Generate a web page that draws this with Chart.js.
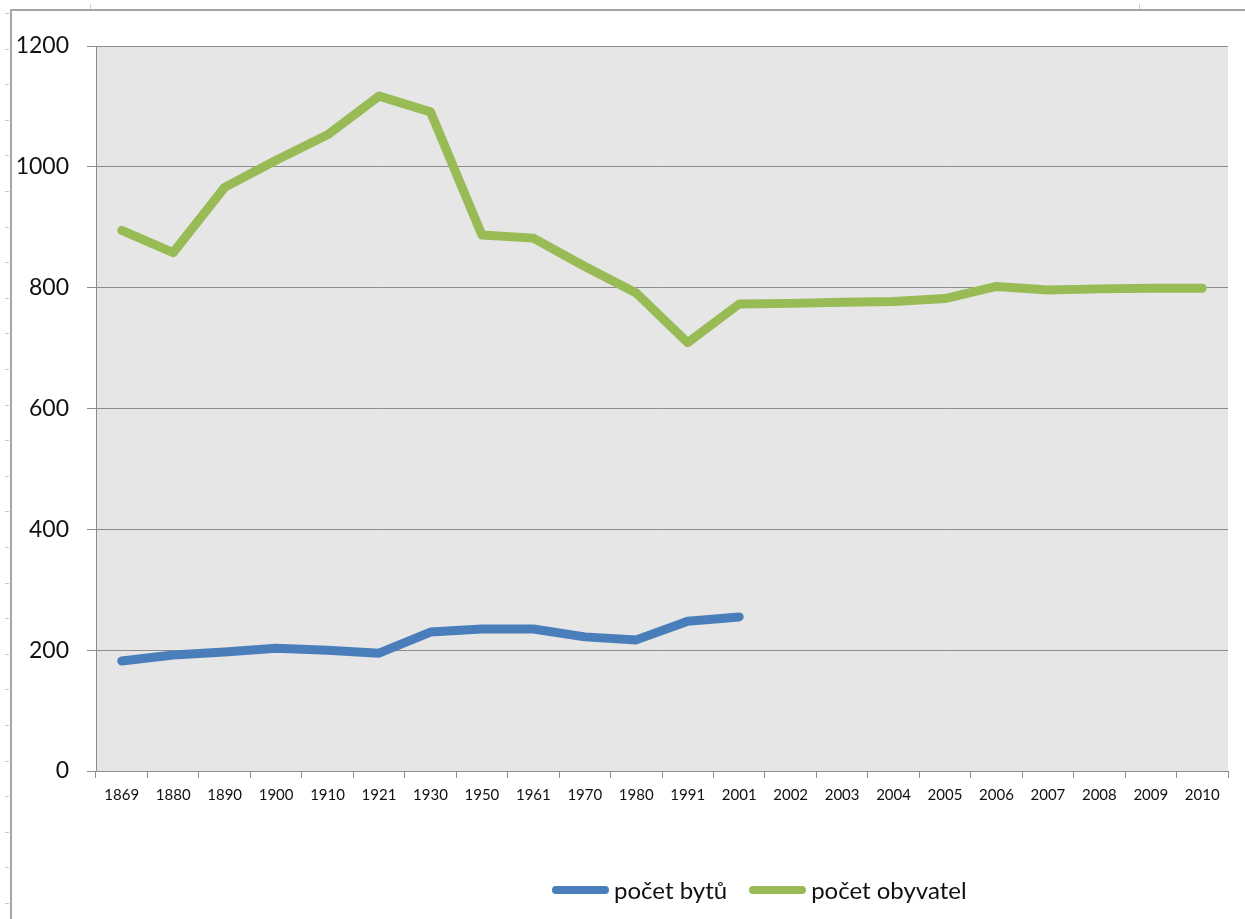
<!DOCTYPE html>
<html>
<head>
<meta charset="utf-8">
<script src="https://cdn.jsdelivr.net/npm/chart.js@4.4.0/dist/chart.umd.min.js"></script>
<style>
  html, body { margin: 0; padding: 0; background: #fff; }
  #wrap { position: relative; width: 1245px; height: 919px; overflow: hidden; }
  #frame { position: absolute; left: 10px; top: 9px; width: 1240px; height: 920px;
           border-left: 2px solid #a6a6a6; border-top: 2px solid #a6a6a6; }
  #ruler { position: absolute; left: 5px; top: 0; width: 4px; height: 919px;
           background: repeating-linear-gradient(to bottom, transparent 0px, transparent 13px, #c8c8c8 13px, #c8c8c8 14px, transparent 14px, transparent 35.6px); }
  .rtick { position: absolute; top: 4px; width: 1px; height: 5px; background: #d0d0d0; }
  #c { position: absolute; left: 0; top: 0; }
  #legend { position: absolute; left: 552px; top: 875px; display: flex; align-items: center;
            font-family: Lato, "Open Sans", sans-serif; font-size: 24px; color: #111; }
  .item { display: flex; align-items: center; margin-right: 22px; }
  .bar { width: 57px; height: 8px; border-radius: 4px; margin-right: 5px; }
</style>
</head>
<body>
<div id="wrap">
  <div id="frame"></div>
  <div id="ruler"></div>
  <div class="rtick" style="left:90px"></div>
  <div class="rtick" style="left:1139px"></div>
  <canvas id="c" width="1245" height="919"></canvas>
  <div id="legend"></div>
</div>
<script>
const categories = ["1869","1880","1890","1900","1910","1921","1930","1950","1961","1970","1980","1991","2001","2002","2003","2004","2005","2006","2007","2008","2009","2010"];
const pocetBytu = [182,192,197,203,200,195,230,235,235,222,217,248,255,null,null,null,null,null,null,null,null,null];
const pocetObyvatel = [895,858,966,1011,1053,1117,1091,887,882,835,791,709,773,774,776,777,782,802,796,798,799,799];
const seriesNames = ["počet bytů","počet obyvatel"];
const seriesColors = ["#4a7ebb","#98bb55"];
const yTicks = [0,200,400,600,800,1000,1200];

const bgPlugin = {
  id: 'plotBg',
  beforeDraw(chart) {
    const a = chart.chartArea, ctx = chart.ctx;
    ctx.save();
    ctx.fillStyle = '#e6e6e6';
    ctx.fillRect(a.left, a.top, a.right - a.left, a.bottom - a.top);
    ctx.restore();
  }
};

const chart = new Chart(document.getElementById('c'), {
  type: 'line',
  data: {
    labels: categories,
    datasets: [
      { label: seriesNames[0], data: pocetBytu, borderColor: seriesColors[0], backgroundColor: seriesColors[0],
        borderWidth: 9, pointRadius: 0, tension: 0, borderCapStyle: 'round', borderJoinStyle: 'round', spanGaps: false },
      { label: seriesNames[1], data: pocetObyvatel, borderColor: seriesColors[1], backgroundColor: seriesColors[1],
        borderWidth: 9, pointRadius: 0, tension: 0, borderCapStyle: 'round', borderJoinStyle: 'round' }
    ]
  },
  options: {
    responsive: false,
    animation: false,
    devicePixelRatio: 1,
    layout: { padding: { left: 0, right: 17, top: 46, bottom: 919 - 771 - 40 } },
    plugins: { legend: { display: false }, tooltip: { enabled: false } },
    scales: {
      x: {
        offset: true,
        grid: { display: true, offset: true, drawOnChartArea: false, drawTicks: true, tickLength: 7, color: '#8c8c8c', lineWidth: 1 },
        border: { display: true, color: '#8c8c8c', width: 1 },
        ticks: { color: '#111', font: { family: 'Lato', size: 15 }, padding: 8, maxRotation: 0, autoSkip: false },
        afterFit(s) { s.height = 40; }
      },
      y: {
        min: 0, max: 1200,
        afterBuildTicks(s) { s.ticks = yTicks.map(v => ({ value: v })); },
        grid: { color: '#8c8c8c', lineWidth: 1, tickLength: 9, drawTicks: true },
        border: { display: true, color: '#8c8c8c', width: 1 },
        ticks: { color: '#111', font: { family: 'Lato', size: 23 }, padding: 18, callback: v => String(v) },
        afterFit(s) { s.width = 96; }
      }
    }
  },
  plugins: [bgPlugin]
});

const lg = document.getElementById('legend');
chart.data.datasets.forEach(ds => {
  const it = document.createElement('div'); it.className = 'item';
  const b = document.createElement('div'); b.className = 'bar'; b.style.background = ds.borderColor;
  const t = document.createElement('span'); t.textContent = ds.label;
  it.appendChild(b); it.appendChild(t); lg.appendChild(it);
});
</script>
</body>
</html>
